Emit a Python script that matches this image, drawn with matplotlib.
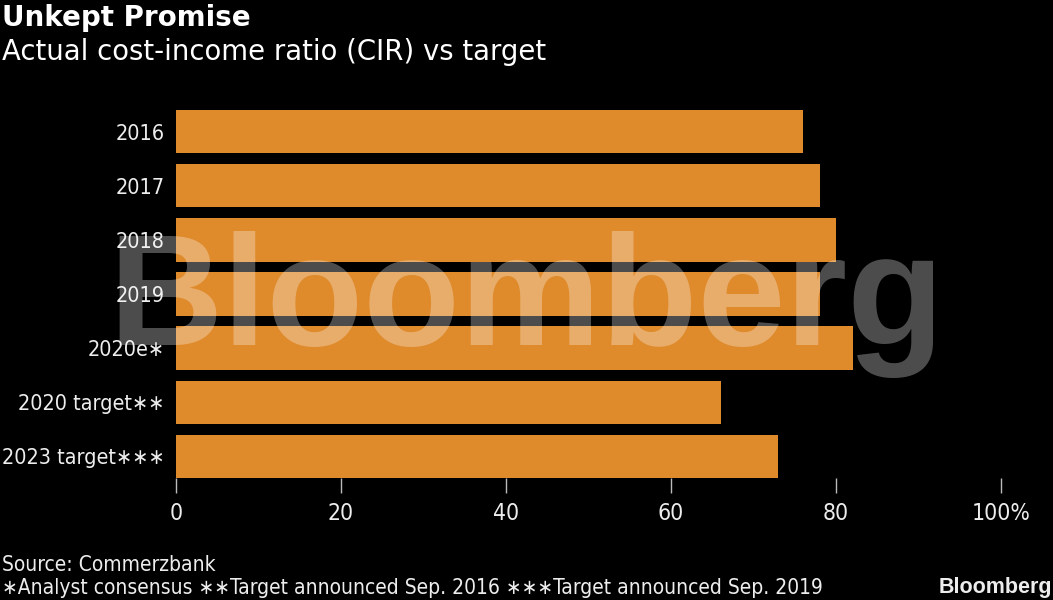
import matplotlib.pyplot as plt

labels = ['2016', '2017', '2018', '2019', '2020e\u2217', '2020 target\u2217\u2217', '2023 target\u2217\u2217\u2217']
cir = [76, 78, 80, 78, 82, 66, 73]
xticks = [0, 20, 40, 60, 80, 100]
xtick_labels = ['0', '20', '40', '60', '80', '100%']

bar_color = '#DF8A2B'
txt = '#EDEDED'
narrow = ['DejaVu Sans']

fig = plt.figure(figsize=(10.53, 6.0), dpi=100, facecolor='black')
ax = fig.add_axes([176/1053, 1-478/600, (1001-176)/1053, (478-110)/600])
ax.set_facecolor('black')

ypos = list(range(len(labels)))
ax.barh(ypos, cir, height=0.8, color=bar_color, zorder=2)
ax.set_ylim(6.4, -0.4)
ax.set_xlim(0, 100)

ax.set_yticks(ypos)
ax.set_yticklabels(labels, fontsize=15.5, color=txt, family=narrow, stretch='condensed')
ax.tick_params(axis='y', length=0, pad=8)
ax.set_xticks(xticks)
ax.set_xticklabels(xtick_labels, fontsize=16.5, color=txt, family=narrow, stretch='condensed')
ax.tick_params(axis='x', length=11, color='#bbbbbb', width=1, pad=6, direction='out')
for s in ax.spines.values():
    s.set_visible(False)

# watermark
fig.text(108/1053, 1-345/600, 'Bloomberg', fontsize=114, fontweight='bold',
         family=['Liberation Sans', 'DejaVu Sans'], color='white', alpha=0.3,
         ha='left', va='baseline', zorder=5)

fig.text(2/1053, 1-18/600, 'Unkept Promise', fontsize=20, fontweight='bold',
         color='white', va='center', ha='left', family=['DejaVu Sans'])
fig.text(2/1053, 1-52/600, 'Actual cost-income ratio (CIR) vs target', fontsize=19.8,
         color='white', va='center', ha='left', family=['DejaVu Sans'])

fig.text(2/1053, 1-565/600, 'Source: Commerzbank', fontsize=15, color=txt,
         va='center', ha='left', family=narrow, stretch='condensed')
fig.text(2/1053, 1-588/600,
         '\u2217Analyst consensus \u2217\u2217Target announced Sep. 2016 \u2217\u2217\u2217Target announced Sep. 2019',
         fontsize=15, color=txt, va='center', ha='left', family=narrow, stretch='condensed')
fig.text(1052/1053, 1-588/600, 'Bloomberg', fontsize=15.5, fontweight='bold', color=txt,
         va='center', ha='right', family=['Liberation Sans', 'DejaVu Sans'])

fig.savefig('out.png', dpi=100, facecolor='black')
